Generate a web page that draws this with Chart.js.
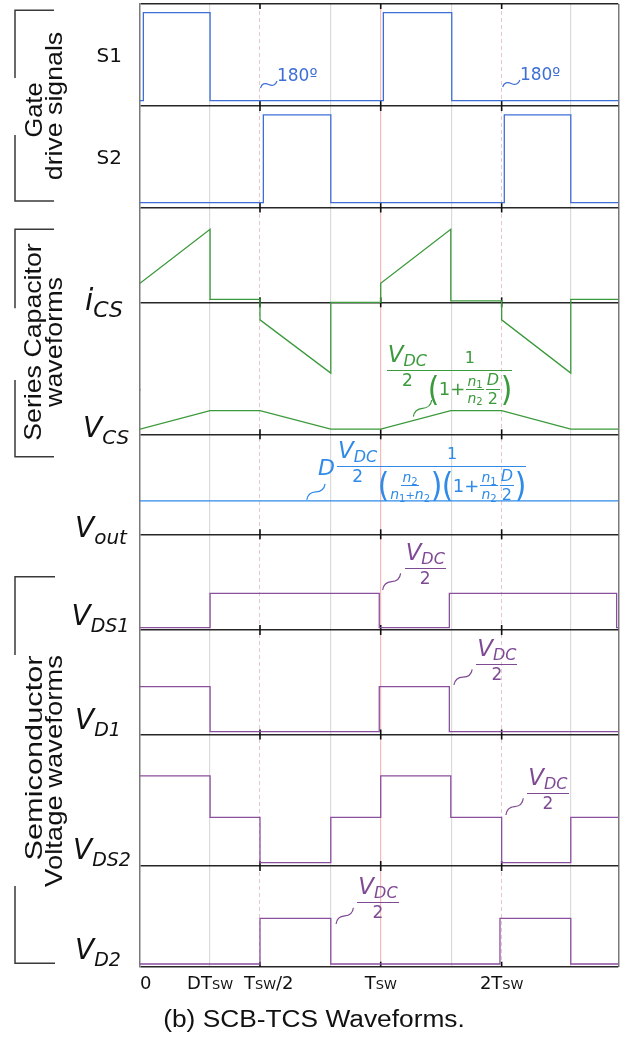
<!DOCTYPE html>
<html>
<head>
<meta charset="utf-8">
<script src="https://cdn.jsdelivr.net/npm/chart.js@4.4.1/dist/chart.umd.min.js"></script>
<style>
  html, body { margin: 0; padding: 0; background: #fff; }
  #wrap { position: relative; width: 626px; height: 1041px; overflow: hidden; }
  #c { position: absolute; left: 0; top: 0; }
  #sq, #ann { position: absolute; left: 0; top: 0; width: 626px; height: 1041px; }
  .t { position: absolute; white-space: nowrap; line-height: 1; font-family: 'DejaVu Sans'; color: #111; }
  .sc { font-variant: small-caps; }
  .f { position: absolute; display: flex; align-items: flex-start; font-family: 'DejaVu Sans'; line-height: 1; white-space: nowrap; }
  .fr { display: inline-flex; flex-direction: column; }
  .nu { display: flex; justify-content: center; align-items: flex-end; border-bottom: 1.3px solid currentColor; padding: 0 1px 4px; box-sizing: border-box; }
  .de { display: flex; justify-content: center; align-items: flex-start; padding-top: 1px; box-sizing: border-box; }
  .row { display: flex; align-items: center; }
  .sf { display: inline-flex; flex-direction: column; align-items: center; margin: 0 1px; }
  .sf > span:first-child { border-bottom: 1px solid currentColor; padding: 0 1px 1px; }
  .sf > span:last-child { padding-top: 1px; }
  .pl { font-size: 33px; display: inline-block; transform: scaleX(0.9); margin: 0 -1px; }
</style>
</head>
<body>
<div id="wrap">
  <canvas id="c" width="626" height="1041"></canvas>
  <svg id="sq" width="626" height="1041"></svg>
  <div id="ann"></div>
</div>
<script>
// time in units of Tsw
const DT = 0.292;
const tEnd = 1.993;

const xTickVals = [0, DT, 0.5, 1.003, 1.507];
const xTickText = ['0', 'DTsw', 'Tsw/2', 'Tsw', '2Tsw'];
const gridTimes = [DT, 0.795, 1.299, 1.794];
const markTimes = [0.5, 1.003, 1.507];

// gate signals
const s1T = [0, 0.014, 0.014, DT, DT, 1.014, 1.014, 1.299, 1.299, tEnd];
const s1V = [0, 0, 1, 1, 0, 0, 1, 1, 0, 0];
const s2T = [0, 0.514, 0.514, 0.795, 0.795, 1.518, 1.518, 1.795, 1.795, tEnd];
const s2V = [0, 0, 1, 1, 0, 0, 1, 1, 0, 0];

// series capacitor current and voltage
const icsT = [0, DT, DT, 0.5, 0.5, 0.795, 0.795, 1.003, 1.003, 1.295, 1.295, 1.507, 1.507, 1.795, 1.795, tEnd];
const icsV = [0.26, 1.0, 0.04, 0.04, -0.24, -0.97, 0, 0, 0.26, 1.0, 0.02, 0.02, -0.24, -0.97, 0.04, 0.04];
const vcsT = [0, DT, 0.5, 0.795, 1.003, 1.295, 1.507, 1.795, tEnd];
const vcsV = [0.22, 1, 1, 0.22, 0.22, 1, 1, 0.22, 0.22];

// output voltage
const voT = [0, tEnd];
const voV = [1, 1];

// semiconductor voltages
const vds1T = [0, DT, DT, 0.997, 0.997, 1.289, 1.289, 1.986, 1.986, tEnd];
const vds1V = [0, 0, 1, 1, 0, 0, 1, 1, 0, 0];
const vd1T = [0, DT, DT, 0.997, 0.997, 1.289, 1.289, tEnd];
const vd1V = [1, 1, 0, 0, 1, 1, 0, 0];
const vds2T = [0, DT, DT, 0.5, 0.5, 0.795, 0.795, 1.003, 1.003, 1.295, 1.295, 1.507, 1.507, 1.795, 1.795, tEnd];
const vds2V = [1.91, 1.91, 1, 1, 0, 0, 1, 1, 1.91, 1.91, 1, 1, 0, 0, 1, 1];
const vd2T = [0, 0.5, 0.5, 0.795, 0.795, 1.5, 1.5, 1.795, 1.795, tEnd];
const vd2V = [0, 0, 1, 1, 0, 0, 1, 1, 0, 0];

const sBlue = '#3e6fd5', oBlue = '#2f8ae8', green = '#3b9a3b', purple = '#8b4f9f', purpleText = '#7f4a94';

// stacked panels, top to bottom (h = share of the plot height)
const panels = [
  { id: 'yS1',  h: 102,   min: -0.06,  max: 1.099, rules: [-0.06, 1.099] },
  { id: 'yS2',  h: 101.5, min: -0.055, max: 1.102, rules: [-0.055] },
  { id: 'yI',   h: 182.5, min: -1.201, max: 1.299, rules: [0] },
  { id: 'yVcs', h: 44.3,  min: 0,      max: 1.877, rules: [0] },
  { id: 'yVo',  h: 100,   min: 0,      max: 3.0,   rules: [0] },
  { id: 'yDS1', h: 95.7,  min: -0.067, max: 2.715, rules: [-0.067] },
  { id: 'yD1',  h: 104.5, min: -0.062, max: 2.26,  rules: [-0.062] },
  { id: 'yDS2', h: 131.5, min: -0.073, max: 2.823, rules: [-0.073] },
  { id: 'yD2',  h: 100.7, min: -0.059, max: 2.145, rules: [-0.059] }
];

const series = [
  { axis: 'yS1', t: s1T, v: s1V, color: sBlue },
  { axis: 'yS2', t: s2T, v: s2V, color: sBlue },
  { axis: 'yI', t: icsT, v: icsV, color: green },
  { axis: 'yVcs', t: vcsT, v: vcsV, color: green },
  { axis: 'yVo', t: voT, v: voV, color: oBlue },
  { axis: 'yDS1', t: vds1T, v: vds1V, color: purple },
  { axis: 'yD1', t: vd1T, v: vd1V, color: purple },
  { axis: 'yDS2', t: vds2T, v: vds2V, color: purple },
  { axis: 'yD2', t: vd2T, v: vd2V, color: purple }
];

const scales = {
  x: {
    type: 'linear', min: 0, max: tEnd,
    ticks: { display: false },
    border: { display: false },
    grid: {
      drawTicks: false,
      color: c => c.tick.value === tEnd ? '#7a7a7a' : (c.tick.value === 1.003 ? '#f6baba' : '#dadada'),
      lineWidth: c => c.tick.value === tEnd ? 1.5 : 1.2
    },
    afterBuildTicks: s => { s.ticks = gridTimes.concat([1.003, tEnd]).map(v => ({ value: v })); }
  },
  x2: {
    type: 'linear', axis: 'x', position: 'bottom', min: 0, max: tEnd,
    ticks: { display: false },
    border: { display: false, dash: [4, 3] },
    grid: { drawTicks: false, color: '#e8c6ce', lineWidth: 1 },
    afterBuildTicks: s => { s.ticks = [0.5, 1.507].map(v => ({ value: v })); }
  }
};

panels.forEach((p, i) => {
  scales[p.id] = {
    type: 'linear', position: 'left', stack: 'waves', stackWeight: p.h, weight: panels.length - i,
    min: p.min, max: p.max,
    ticks: { display: false },
    grid: { drawTicks: false, color: '#262626', lineWidth: 1.5 },
    border: { color: '#7a7a7a', width: 1.5 },
    afterBuildTicks: s => { s.ticks = p.rules.map(v => ({ value: v })); }
  };
});

// small tick marks where the half-period lines cross each panel rule
const boundaryTicks = {
  id: 'boundaryTicks',
  beforeDatasetsDraw(chart) {
    const { ctx, chartArea, scales } = chart;
    ctx.save();
    ctx.strokeStyle = '#111';
    ctx.lineWidth = 1.6;
    panels.forEach(p => {
      p.rules.forEach(v => {
        const y = scales[p.id].getPixelForValue(v);
        markTimes.forEach(t => {
          const x = scales.x.getPixelForValue(t);
          ctx.beginPath();
          ctx.moveTo(x, Math.max(chartArea.top, y - 5));
          ctx.lineTo(x, Math.min(chartArea.bottom, y + 5));
          ctx.stroke();
        });
      });
    });
    ctx.restore();
  }
};

const chart = new Chart(document.getElementById('c'), {
  type: 'line',
  data: {
    datasets: series.map(s => ({
      data: s.t.map((t, i) => ({ x: t, y: s.v[i] })),
      xAxisID: 'x',
      yAxisID: s.axis,
      borderColor: s.color,
      borderWidth: 1.3,
      pointRadius: 0,
      fill: false,
      tension: 0
    }))
  },
  options: {
    responsive: false,
    animation: false,
    layout: { padding: { left: 140, right: 7.7, top: 4, bottom: 74.3 } },
    plugins: { legend: { display: false }, tooltip: { enabled: false } },
    scales: scales
  },
  plugins: [boundaryTicks]
});

// ---- text and pointers on top of the canvas ----
const ann = document.getElementById('ann');
const svg = document.getElementById('sq');
const X = t => chart.scales.x.getPixelForValue(t);
const Y = (id, v) => chart.scales[id].getPixelForValue(v);
const bottomOf = id => chart.scales[id].bottom;

function put(html, css, cls) {
  const d = document.createElement('div');
  d.className = cls || 't';
  d.innerHTML = html;
  Object.assign(d.style, css);
  ann.appendChild(d);
  return d;
}

function path(d, color, w) {
  const p = document.createElementNS('http://www.w3.org/2000/svg', 'path');
  p.setAttribute('d', d);
  p.setAttribute('fill', 'none');
  p.setAttribute('stroke', color);
  p.setAttribute('stroke-width', w);
  svg.appendChild(p);
}

function squiggle(x0, y0, x1, y1, color) {
  const ux = x1 - x0, uy = y1 - y0, L = Math.hypot(ux, uy);
  const nx = uy / L, ny = -ux / L, a = 5;
  const cx = x0 + ux * 0.25 + nx * a, cy = y0 + uy * 0.25 + ny * a;
  path(`M${x0} ${y0} Q${cx} ${cy} ${x0 + ux / 2} ${y0 + uy / 2} T${x1} ${y1}`, color, 1.2);
}

// side labels of each panel
function sideLabel(main, sub, left, baseline, fs, subFs, drop) {
  put(`<i>${main}</i><i style="font-size:${subFs}px;position:relative;top:${drop}px">${sub}</i>`,
    { left: left + 'px', top: (baseline - 0.846 * fs) + 'px', fontSize: fs + 'px' });
}
const midOf = id => (chart.scales[id].top + chart.scales[id].bottom) / 2;
put('S1', { left: '96.5px', top: (midOf('yS1') + 0.365 * 20 - 0.846 * 20) + 'px', fontSize: '20px' });
put('S2', { left: '96.5px', top: (midOf('yS2') + 0.365 * 20 - 0.846 * 20) + 'px', fontSize: '20px' });
sideLabel('i', 'CS', 85, Y('yI', 0) + 7.7, 30, 22, 7);
sideLabel('V', 'CS', 83, bottomOf('yVcs') + 3.7, 28, 20, 7);
sideLabel('V', 'out', 75, bottomOf('yVo') + 3.7, 28, 20, 7);
sideLabel('V', 'DS1', 71.5, bottomOf('yDS1') - 4, 28, 19, 7);
sideLabel('V', 'D1', 75, bottomOf('yD1') - 4.5, 28, 19, 7);
sideLabel('V', 'DS2', 73, bottomOf('yDS2') - 6, 28, 19, 7);
sideLabel('V', 'D2', 75, bottomOf('yD2') - 7.4, 28, 19, 7);

// group labels, rotated, with their brackets
function rotLabel(text, cx, cy, len) {
  const d = put(text, { left: cx + 'px', top: cy + 'px', fontFamily: 'Liberation Sans', fontSize: '24px' });
  const w = d.offsetWidth;
  d.style.transform = `translate(-50%,-50%) rotate(-90deg) scaleX(${len / w})`;
}
rotLabel('Gate', 33.5, 109.5, 55);
rotLabel('drive signals', 53.5, 106, 148);
rotLabel('Series Capacitor', 33, 341.5, 197);
rotLabel('waveforms', 53.5, 341.7, 130);
rotLabel('Semiconductor', 33.5, 757.5, 205);
rotLabel('Voltage waveforms', 54, 771, 232);
[
  'M54 10.3 H15 V78', 'M15 135 V201 H54',
  'M54 229.3 H15 V308.3', 'M15 380 V456.7 H54',
  'M55 576.7 H15 V655', 'M15 886 V963.3 H55'
].forEach(d => path(d, '#3a3a3a', 1.5));

// time axis labels
const axisBase = chart.chartArea.bottom + 22.6;
xTickVals.forEach((v, i) => {
  const parts = xTickText[i].split('/');
  const html = parts[0].replace('sw', '<span class="sc">sw</span>') +
    (parts[1] ? `<span style="position:absolute;left:100%;top:0">/${parts[1]}</span>` : '');
  const d = put(html, { left: X(v) + 'px', top: (axisBase - 0.846 * 18) + 'px', fontSize: '18px' });
  if (i > 0) d.style.transform = 'translateX(-50%)';
});

const cap = put('(b) SCB-TCS Waveforms.', {
  left: '314px', top: (1027.7 - 0.846 * 23) + 'px',
  fontFamily: 'Liberation Sans', fontSize: '23px'
});
cap.style.transform = `translateX(-50%) scaleX(${302 / cap.offsetWidth})`;

// formulas
const vdc = `<i style="font-size:23px">V</i><i style="font-size:16px;position:relative;top:3px">DC</i>`;
const two = `<span style="font-size:17px">2</span>`;
const one = `<span style="font-size:16px">1</span>`;
const nk = k => `<i>n</i><span style="font-size:0.72em;position:relative;top:0.22em">${k}</span>`;
function frac(num, den, nh, dh) {
  return `<span class="fr"><span class="nu" style="height:${nh}px">${num}</span>` +
    `<span class="de" style="height:${dh}px">${den}</span></span>`;
}
function sf(num, den, fs) {
  return `<span class="sf" style="font-size:${fs}px"><span>${num}</span><span>${den}</span></span>`;
}
const NH = 26;
const gainDen = `<span class="pl">(</span><span style="font-size:18px">1+</span>${sf(nk(1), nk(2), 14)}${sf('<i>D</i>', '2', 16)}<span class="pl">)</span>`;
const ratioDen = `<span class="pl">(</span>${sf(nk(2), nk(1) + '<span style="font-size:0.8em">+</span>' + nk(2), 14)}<span class="pl">)</span>`;

const formulas = {
  half: () => frac(vdc, two, NH, 18),
  vcs: () => frac(vdc, two, NH, 18) + frac(one, `<span class="row">${gainDen}</span>`, NH, 32),
  vout: () => `<i style="font-size:22px;margin-top:${NH - 10.6}px;margin-right:2px">D</i>` +
    frac(vdc, two, NH, 18) + frac(one, `<span class="row">${ratioDen}${gainDen}</span>`, NH, 32)
};

// pointers: start on the trace (t, v), end offset in px, then the label
const notes = [
  { axis: 'yS1', t: 0.502, v: 0.145, dx: 16.5, dy: -7, kind: 'deg', color: sBlue },
  { axis: 'yS1', t: 1.511, v: 0.156, dx: 17.3, dy: -7, kind: 'deg', color: sBlue },
  { axis: 'yVcs', t: 1.139, v: 0.746, dx: 18.4, dy: -16.7, kind: 'vcs', color: green },
  { axis: 'yVo', t: 0.695, v: 1.03, dx: 18.3, dy: -16, kind: 'vout', color: oBlue },
  { axis: 'yDS1', t: 1.011, v: 1.096, dx: 18, dy: -16.7, kind: 'half', color: purpleText },
  { axis: 'yD1', t: 1.308, v: 1.038, dx: 18.3, dy: -15.7, kind: 'half', color: purpleText },
  { axis: 'yDS2', t: 1.525, v: 1.05, dx: 17.3, dy: -16.7, kind: 'half', color: purpleText },
  { axis: 'yD2', t: 0.817, v: 0.875, dx: 17.3, dy: -16.3, kind: 'half', color: purpleText }
];

notes.forEach(n => {
  const x0 = X(n.t), y0 = Y(n.axis, n.v);
  const x1 = x0 + n.dx, y1 = y0 + n.dy;
  squiggle(x0, y0, x1, y1, n.color);
  if (n.kind === 'deg') {
    put('180º', { left: x1 + 'px', top: (y1 - 6 - 0.481 * 17) + 'px', fontSize: '17px', color: n.color });
    return;
  }
  const offs = { half: [4, -4.5], vcs: [-45, -29.3], vout: [-7, -16.5] }[n.kind];
  put(formulas[n.kind](), { left: (x1 + offs[0]) + 'px', top: (y1 + offs[1] - NH) + 'px', color: n.color }, 'f');
});
</script>
</body>
</html>
